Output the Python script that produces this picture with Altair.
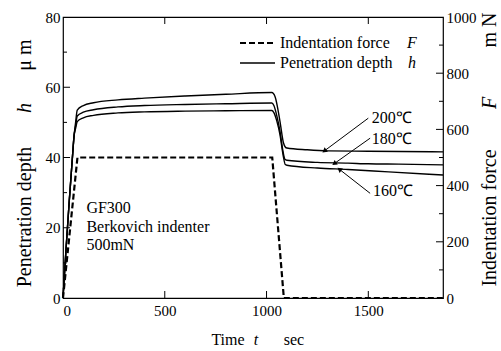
import altair as alt
import pandas as pd

FONT = "Liberation Serif"

# ---- data ----
t_200 = [0, 15, 30, 45, 55, 62, 70, 100, 150, 270, 400, 600, 800, 1026, 1042, 1066, 1083, 1092, 1100, 1200, 1300, 1500, 1867]
h_200 = [0, 14, 27, 39, 46.5, 50.0, 53.5, 54.8, 55.6, 56.4, 56.9, 57.5, 58.0, 58.5, 57.3, 50.3, 44.2, 43.0, 42.7, 42.2, 41.9, 41.8, 41.6]
t_180 = [0, 15, 30, 45, 55, 62, 70, 100, 150, 270, 400, 600, 800, 1026, 1036, 1050, 1066, 1080, 1090, 1100, 1250, 1400, 1500, 1650, 1867]
h_180 = [0, 14, 27, 39, 46.5, 49.0, 51.8, 52.9, 53.6, 54.4, 54.8, 55.1, 55.3, 55.5, 54.8, 52.0, 47.5, 42.0, 39.5, 39.2, 38.6, 38.4, 38.2, 38.1, 37.9]
t_160 = [0, 15, 30, 45, 55, 62, 70, 100, 150, 270, 400, 600, 800, 1026, 1036, 1050, 1066, 1082, 1092, 1100, 1250, 1400, 1600, 1867]
h_160 = [0, 14, 27, 39, 46.5, 48.3, 50.2, 51.3, 52.0, 52.7, 53.0, 53.2, 53.3, 53.4, 52.8, 50.5, 46.5, 40.5, 38.0, 37.8, 37.0, 36.6, 35.9, 35.0]

t_force = [0, 71, 1028, 1085, 1867]
f_force = [0, 500, 500, 0, 0]

x_ticks = [0, 500, 1000, 1500]
h_ticks = [0, 20, 40, 60, 80]
h_minor = [10, 30, 50, 70]
f_ticks = [0, 200, 400, 600, 800, 1000]
f_minor = [100, 300, 500, 700, 900]

temp_labels = ["200℃", "180℃", "160℃"]
label_t = [1517, 1517, 1523]
label_h = [51.3, 45.3, 30.5]
arrow_t0 = [1500, 1509, 1509]
arrow_h0 = [51.2, 45.5, 29.8]
arrow_t1 = [1287, 1336, 1361]
arrow_h1 = [42.0, 38.4, 36.5]
arrow_angle = [233, 234, 308]

note_lines = ["GF300", "Berkovich indenter", "500mN"]
note_t = [115, 115, 115]
note_h = [25.6, 20.2, 15.1]

W, H = 380, 281

# ---- tables ----
pen = pd.concat([
    pd.DataFrame({"t": t_200, "h": h_200, "s": "200"}),
    pd.DataFrame({"t": t_180, "h": h_180, "s": "180"}),
    pd.DataFrame({"t": t_160, "h": h_160, "s": "160"}),
])
force = pd.DataFrame({"t": t_force, "F": f_force})
ann = pd.DataFrame({"lab": temp_labels, "lt": label_t, "lh": label_h,
                    "t0": arrow_t0, "h0": arrow_h0, "t1": arrow_t1, "h1": arrow_h1,
                    "ang": arrow_angle})
notes = pd.DataFrame({"txt": note_lines, "t": note_t, "h": note_h})
one = pd.DataFrame({"a": [0]})

xs = alt.Scale(domain=[0, 1867], nice=False, zero=False)
hs = alt.Scale(domain=[0, 80], nice=False)
fs = alt.Scale(domain=[0, 1000], nice=False)

AX = dict(title=None, format="d", labelFont=FONT, labelFontSize=15, labelColor="black",
          ticks=False, domain=False, grid=False)
xaxis = alt.Axis(values=x_ticks, labelPadding=5, **AX)
haxis = alt.Axis(values=h_ticks, labelPadding=3, orient="left", **AX)
faxis = alt.Axis(values=f_ticks, labelPadding=3, orient="right", **AX)

lines = alt.Chart(pen).mark_line(color="black", strokeWidth=1.4, interpolate="monotone").encode(
    x=alt.X("t:Q", scale=xs, axis=xaxis),
    y=alt.Y("h:Q", scale=hs, axis=haxis),
    detail="s:N",
)

def vticks(vals, y0, y1):
    return alt.Chart(pd.DataFrame({"v": vals})).mark_rule(color="black", strokeWidth=1).encode(
        x=alt.X("v:Q", scale=xs, axis=xaxis), y=alt.value(y0), y2=alt.value(y1))

def hticks(vals, scale, axis, x0, x1):
    return alt.Chart(pd.DataFrame({"v": vals})).mark_rule(color="black", strokeWidth=1).encode(
        y=alt.Y("v:Q", scale=scale, axis=axis), x=alt.value(x0), x2=alt.value(x1))

arrows = alt.Chart(ann).mark_rule(color="black", strokeWidth=1).encode(
    x=alt.X("t0:Q", scale=xs, axis=xaxis), y=alt.Y("h0:Q", scale=hs, axis=haxis),
    x2="t1:Q", y2="h1:Q")
heads = alt.Chart(ann).mark_point(shape="triangle", filled=True, color="black", size=30, opacity=1).encode(
    x=alt.X("t1:Q", scale=xs, axis=xaxis), y=alt.Y("h1:Q", scale=hs, axis=haxis),
    angle=alt.Angle("ang:Q", scale=None))
labels = alt.Chart(ann).mark_text(font=FONT, fontSize=16, align="left", baseline="middle", color="black").encode(
    x=alt.X("lt:Q", scale=xs, axis=xaxis), y=alt.Y("lh:Q", scale=hs, axis=haxis), text="lab:N")
note = alt.Chart(notes).mark_text(font=FONT, fontSize=16, align="left", baseline="middle", color="black").encode(
    x=alt.X("t:Q", scale=xs, axis=xaxis), y=alt.Y("h:Q", scale=hs, axis=haxis), text="txt:N")

def txt(s, x, y, angle=0, italic=False, size=16, align="center"):
    kw = dict(text=s, font=FONT, fontSize=size, align=align, baseline="middle", color="black")
    if angle:
        kw["angle"] = angle
    if italic:
        kw["fontStyle"] = "italic"
    return alt.Chart(one).mark_text(**kw).encode(x=alt.value(x), y=alt.value(y))

# legend
leg_dash = alt.Chart(one).mark_rule(color="black", strokeWidth=2.2, strokeDash=[6, 3]).encode(
    x=alt.value(177), x2=alt.value(212), y=alt.value(26))
leg_solid = alt.Chart(one).mark_rule(color="black", strokeWidth=1.4).encode(
    x=alt.value(177), x2=alt.value(212), y=alt.value(46))

layerA = alt.layer(
    lines,
    vticks(x_ticks[1:], H, H - 7), vticks(x_ticks[1:], 0, 7),
    hticks(h_ticks[1:-1], hs, haxis, 0, 7), hticks(h_minor, hs, haxis, 0, 4),
    arrows, heads, labels, note,
    leg_dash, leg_solid,
    txt("Indentation force", 217, 26, align="left"),
    txt("F", 349, 26, italic=True),
    txt("Penetration depth", 217, 46, align="left"),
    txt("h", 349, 46, italic=True),
    txt("Penetration depth", -38, 200, angle=270, size=20),
    txt("h", -38, 91, angle=270, size=20, italic=True),
    txt("μ m", -38, 38, angle=270, size=20),
    txt("Indentation force", 427, 201, angle=270, size=20),
    txt("F", 427, 86, angle=270, size=20, italic=True),
    txt("m N", 427, 13, angle=270, size=20),
    txt("Time", 165, 323),
    txt("t", 193, 323, italic=True),
    txt("sec", 231, 323),
)

force_line = alt.Chart(force).mark_line(color="black", strokeWidth=2.2, strokeDash=[6, 3]).encode(
    x=alt.X("t:Q", scale=xs, axis=xaxis),
    y=alt.Y("F:Q", scale=fs, axis=faxis),
)
layerB = alt.layer(
    force_line,
    hticks(f_ticks[1:-1], fs, faxis, W, W - 7),
    hticks(f_minor, fs, faxis, W, W - 4),
)

chart = alt.layer(layerA, layerB).resolve_scale(y="independent").properties(
    width=W, height=H,
    padding={"left": 63, "top": 17, "right": 58, "bottom": 53},
    autosize=alt.AutoSizeParams(type="none"),
).configure(font=FONT).configure_view(stroke="black", strokeWidth=1.2).configure_axis(
    labelFont=FONT, labelFontSize=15, labelColor="black",
    ticks=False, domain=False, grid=False,
)

chart.save("out.html", embed_options={"renderer": "svg", "actions": False})
